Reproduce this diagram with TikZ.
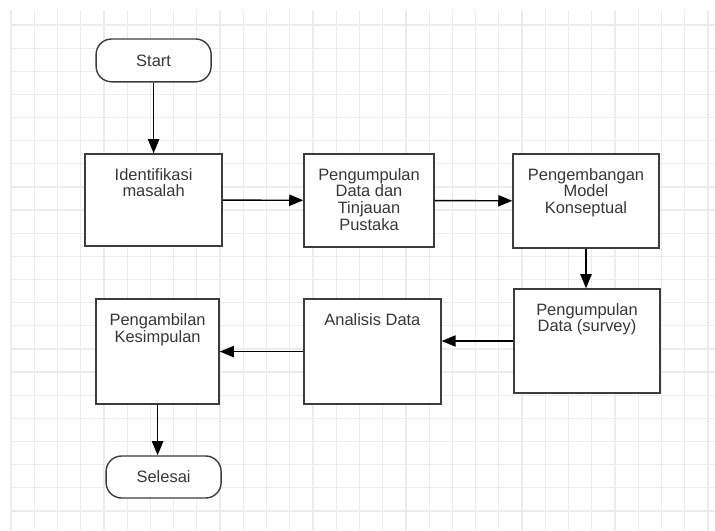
\documentclass[tikz,border=0pt]{standalone}
\usepackage{fontspec}
\setmainfont{Liberation Sans}
\usepackage{tikz}
\usetikzlibrary{arrows.meta,backgrounds,calc,positioning}
\definecolor{gridgray}{RGB}{236,236,236}
\definecolor{boxgray}{RGB}{60,60,60}
\definecolor{textgray}{RGB}{55,55,55}
\tikzset{
  terminal/.style={draw=boxgray, line width=1pt, fill=white, rounded corners=11pt,
    minimum width=2.875cm, minimum height=1.07cm, inner sep=0pt,
    font=\fontsize{11.7}{11.9}\selectfont, text=textgray},
  kotak/.style={draw=boxgray, line width=1pt, fill=white},
  isi/.style={anchor=north, yshift=-10.5pt, inner sep=0pt, align=center,
    font=\fontsize{11.7}{11.9}\selectfont, text=textgray},
  panah/.style={black, line width=1pt, -{Triangle[width=8pt,length=10pt]}}
}

\begin{document}
\begin{tikzpicture}
\useasboundingbox (0,0) rectangle (17.875,-13.25);
\foreach \i in {0,...,30} \draw[gridgray,line width=0.9pt] (0.275+0.58075*\i,-0.25) -- (0.275+0.58075*\i,-13.25);
\foreach \j in {0,...,21} \draw[gridgray,line width=0.9pt] (0.25,-0.625-0.5785*\j) -- (17.875,-0.625-0.5785*\j);

\node[terminal] (start) at (3.84,-1.51) {Start};
\node[kotak, minimum width=3.425cm, minimum height=2.3cm, label={[isi]north:{Identifikasi\\masalah}}] (identifikasi) at (3.84,-5.0) {};
\node[kotak, minimum width=3.25cm, minimum height=2.325cm, label={[isi]north:{Pengumpulan\\Data dan\\Tinjauan\\Pustaka}}] (pustaka) at (9.225,-5.01) {};
\node[kotak, minimum width=3.65cm, minimum height=2.35cm, label={[isi]north:{Pengembangan\\Model\\Konseptual}}] (model) at (14.65,-5.025) {};
\node[kotak, minimum width=3.65cm, minimum height=2.6cm, label={[isi]north:{Pengumpulan\\Data (survey)}}] (survey) at (14.675,-8.525) {};
\node[kotak, minimum width=3.425cm, minimum height=2.625cm, label={[isi]north:{Analisis Data}}] (analisis) at (9.31,-8.79) {};
\node[kotak, minimum width=3.075cm, minimum height=2.625cm, label={[isi]north:{Pengambilan\\Kesimpulan}}] (kesimpulan) at (3.94,-8.79) {};
\node[terminal, minimum height=1.05cm] (selesai) at (4.09,-11.925) {Selesai};

\draw[panah] (start) -- (identifikasi);
\draw[panah] (identifikasi) -- (pustaka);
\draw[panah] (pustaka) -- (model);
\draw[panah] (model.south) -- (model.south |- survey.north);
\draw[panah] (survey.west) -- (survey.west -| analisis.east);
\draw[panah] (analisis.west) -- (analisis.west -| kesimpulan.east);
\draw[panah] (kesimpulan.south) -- (kesimpulan.south |- selesai.north);
\end{tikzpicture}
\end{document}
